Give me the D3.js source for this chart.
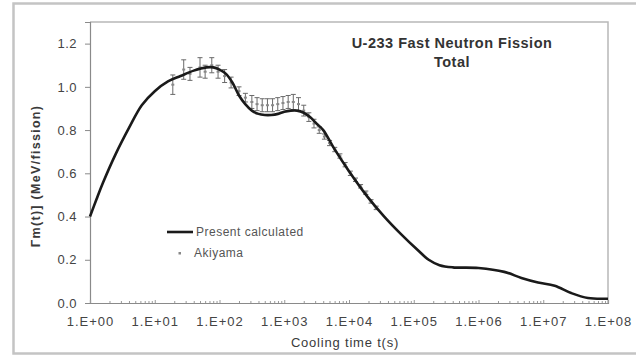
<!DOCTYPE html>
<html>
<head>
<meta charset="utf-8">
<script src="https://cdn.jsdelivr.net/npm/d3@7"></script>
<style>
  html, body { margin: 0; padding: 0; background: #fff; }
  svg { display: block; }
  text { font-family: "Liberation Sans", Arial, sans-serif; fill: #3a3a3a; }
</style>
</head>
<body>
<svg id="chart" width="641" height="358"></svg>
<script>
// Decay heat, U-233 fast neutron fission: present calculation (line) and Akiyama data (points with error bars)
const calcTime = [1, 1.26, 1.58, 2.5, 4, 6.3, 10, 16, 25, 40, 63, 80, 100, 126, 158, 200, 250, 316, 400, 500, 630, 800, 1000, 1260, 1580, 2000, 2500, 3160, 4000, 5750, 10000, 19500, 35000, 63000, 115000, 170000, 250000, 400000, 1e6, 2.5e6, 4.6e6, 8.3e6, 1.5e7, 2.7e7, 4.9e7, 1e8];
const calcValue = [0.40, 0.48, 0.555, 0.69, 0.81, 0.915, 0.98, 1.025, 1.05, 1.075, 1.09, 1.09, 1.08, 1.06, 1.02, 0.96, 0.92, 0.89, 0.875, 0.87, 0.87, 0.875, 0.885, 0.89, 0.89, 0.88, 0.86, 0.83, 0.80, 0.72, 0.61, 0.49, 0.40, 0.32, 0.245, 0.20, 0.175, 0.165, 0.162, 0.144, 0.116, 0.095, 0.08, 0.046, 0.023, 0.02];

const akiTime = [19, 28, 35, 50, 60, 76, 95, 120, 151, 200, 251, 316, 380, 457, 550, 660, 794, 955, 1150, 1380, 1660, 2000, 2400, 2880, 3470, 4170, 5010, 6030, 7240, 8710, 10500, 12600, 15100, 18200, 21900, 26300];
const akiValue = [1.01, 1.08, 1.06, 1.09, 1.07, 1.10, 1.07, 1.05, 1.02, 0.98, 0.95, 0.93, 0.92, 0.915, 0.915, 0.915, 0.92, 0.925, 0.93, 0.93, 0.92, 0.89, 0.86, 0.83, 0.80, 0.77, 0.74, 0.71, 0.68, 0.64, 0.60, 0.57, 0.54, 0.51, 0.47, 0.44];
const akiError = [0.045, 0.045, 0.03, 0.045, 0.03, 0.035, 0.03, 0.03, 0.025, 0.02, 0.02, 0.03, 0.03, 0.03, 0.03, 0.03, 0.03, 0.03, 0.03, 0.035, 0.03, 0.025, 0.02, 0.02, 0.015, 0.012, 0.012, 0.01, 0.01, 0.01, 0.01, 0.008, 0.008, 0.008, 0.008, 0.008];

const xTickValues = [1, 1e1, 1e2, 1e3, 1e4, 1e5, 1e6, 1e7, 1e8];
const xTickLabels = ["1.E+00", "1.E+01", "1.E+02", "1.E+03", "1.E+04", "1.E+05", "1.E+06", "1.E+07", "1.E+08"];
const yTickValues = [0, 0.2, 0.4, 0.6, 0.8, 1.0, 1.2];
const yTickLabels = ["0.0", "0.2", "0.4", "0.6", "0.8", "1.0", "1.2"];

const titleLines = ["U-233 Fast Neutron Fission", "Total"];
const legendLabels = ["Present calculated", "Akiyama"];

const svg = d3.select("#chart");
const plot = { left: 90, right: 608, top: 22, bottom: 303 };

const x = d3.scaleLog().domain([1, 1e8]).range([plot.left, plot.right]);
const y = d3.scaleLinear().domain([0, 1.3]).range([plot.bottom, plot.top]);

// outer chart frame
svg.append("path")
  .attr("d", "M636,3.5 H13.5 V353.5 H636")
  .attr("fill", "none").attr("stroke", "#c4c4c4").attr("stroke-width", 2.5);

// plot area border (top and right)
svg.append("path")
  .attr("d", `M${plot.left},${plot.top} H${plot.right} V${plot.bottom}`)
  .attr("fill", "none").attr("stroke", "#b8b8b8").attr("stroke-width", 1.5);

// y axis
const yAxis = svg.append("g").attr("transform", `translate(${plot.left},0)`)
  .call(d3.axisLeft(y).tickValues(yTickValues).tickSize(5).tickPadding(8)
    .tickFormat((d, i) => yTickLabels[i]));
yAxis.select(".domain").attr("stroke", "#8a8a8a").attr("stroke-width", 1.2);
yAxis.selectAll(".tick line").attr("stroke", "#8a8a8a");
yAxis.selectAll(".tick text").attr("font-size", 13).style("fill", "#444")
  .attr("font-family", "Liberation Sans, Arial, sans-serif").attr("letter-spacing", 0.5);

// x axis with log minor ticks pointing inward
const minorTicks = [];
for (let e = 0; e < 8; e++) for (let m = 2; m <= 9; m++) minorTicks.push(m * Math.pow(10, e));
const xMinor = svg.append("g").attr("transform", `translate(0,${plot.bottom})`)
  .call(d3.axisTop(x).tickValues(minorTicks).tickSize(2).tickFormat(""));
xMinor.select(".domain").remove();
xMinor.selectAll(".tick line").attr("stroke", "#999");

const xAxis = svg.append("g").attr("transform", `translate(0,${plot.bottom})`)
  .call(d3.axisBottom(x).tickValues(xTickValues).tickSize(-3).tickPadding(14)
    .tickFormat((d, i) => xTickLabels[i]));
xAxis.select(".domain").attr("stroke", "#8a8a8a").attr("stroke-width", 1.2);
xAxis.selectAll(".tick line").attr("stroke", "#999");
xAxis.selectAll(".tick text").attr("font-size", 13).style("fill", "#444")
  .attr("font-family", "Liberation Sans, Arial, sans-serif").attr("letter-spacing", 1);

// axis titles
svg.append("text").attr("x", 345).attr("y", 347).attr("text-anchor", "middle")
  .attr("font-size", 13).attr("letter-spacing", 0.8).text("Cooling time t(s)");
svg.append("text").attr("transform", "translate(40,176) rotate(-90)")
  .attr("text-anchor", "middle").attr("font-size", 12.5).attr("font-weight", "bold")
  .attr("letter-spacing", 1.3).text("Γm(t)] (MeV/fission)");

// chart title
svg.selectAll(".title").data(titleLines).join("text")
  .attr("class", "title")
  .attr("x", 452).attr("y", (d, i) => 48 + i * 19)
  .attr("text-anchor", "middle").attr("font-size", 14.5).attr("font-weight", "bold")
  .attr("letter-spacing", 0.5).style("fill", "#333").text(d => d);

// Akiyama error bars and markers
const aki = akiTime.map((t, i) => ({ t, v: akiValue[i], e: akiError[i] }));
const eb = svg.append("g").attr("stroke", "#6a6a6a").attr("stroke-width", 1);
eb.selectAll("line.bar").data(aki).join("line").attr("class", "bar")
  .attr("x1", d => x(d.t)).attr("x2", d => x(d.t))
  .attr("y1", d => y(d.v - d.e)).attr("y2", d => y(d.v + d.e));
eb.selectAll("line.capTop").data(aki).join("line").attr("class", "capTop")
  .attr("x1", d => x(d.t) - 2.5).attr("x2", d => x(d.t) + 2.5)
  .attr("y1", d => y(d.v + d.e)).attr("y2", d => y(d.v + d.e));
eb.selectAll("line.capBot").data(aki).join("line").attr("class", "capBot")
  .attr("x1", d => x(d.t) - 2.5).attr("x2", d => x(d.t) + 2.5)
  .attr("y1", d => y(d.v - d.e)).attr("y2", d => y(d.v - d.e));
svg.append("g").selectAll("rect").data(aki).join("rect")
  .attr("x", d => x(d.t) - 1.5).attr("y", d => y(d.v) - 1)
  .attr("width", 3).attr("height", 2).attr("fill", "#888");

// calculated curve
const line = d3.line().x(d => x(d[0])).y(d => y(d[1])).curve(d3.curveCatmullRom.alpha(0.5));
svg.append("path")
  .datum(calcTime.map((t, i) => [t, calcValue[i]]))
  .attr("d", line).attr("fill", "none").attr("stroke", "#1a1a1a").attr("stroke-width", 2.6);

// legend
svg.append("line").attr("x1", 167).attr("x2", 193).attr("y1", 232).attr("y2", 232)
  .attr("stroke", "#1a1a1a").attr("stroke-width", 2.6);
svg.append("rect").attr("x", 178.5).attr("y", 252).attr("width", 2.5).attr("height", 2.5).attr("fill", "#888");
svg.selectAll(".leg").data(legendLabels).join("text").attr("class", "leg")
  .attr("x", (d, i) => i === 0 ? 196 : 194).attr("y", (d, i) => 236 + i * 21)
  .attr("font-size", 12).attr("letter-spacing", 0.5).style("fill", "#555").text(d => d);
</script>
</body>
</html>
